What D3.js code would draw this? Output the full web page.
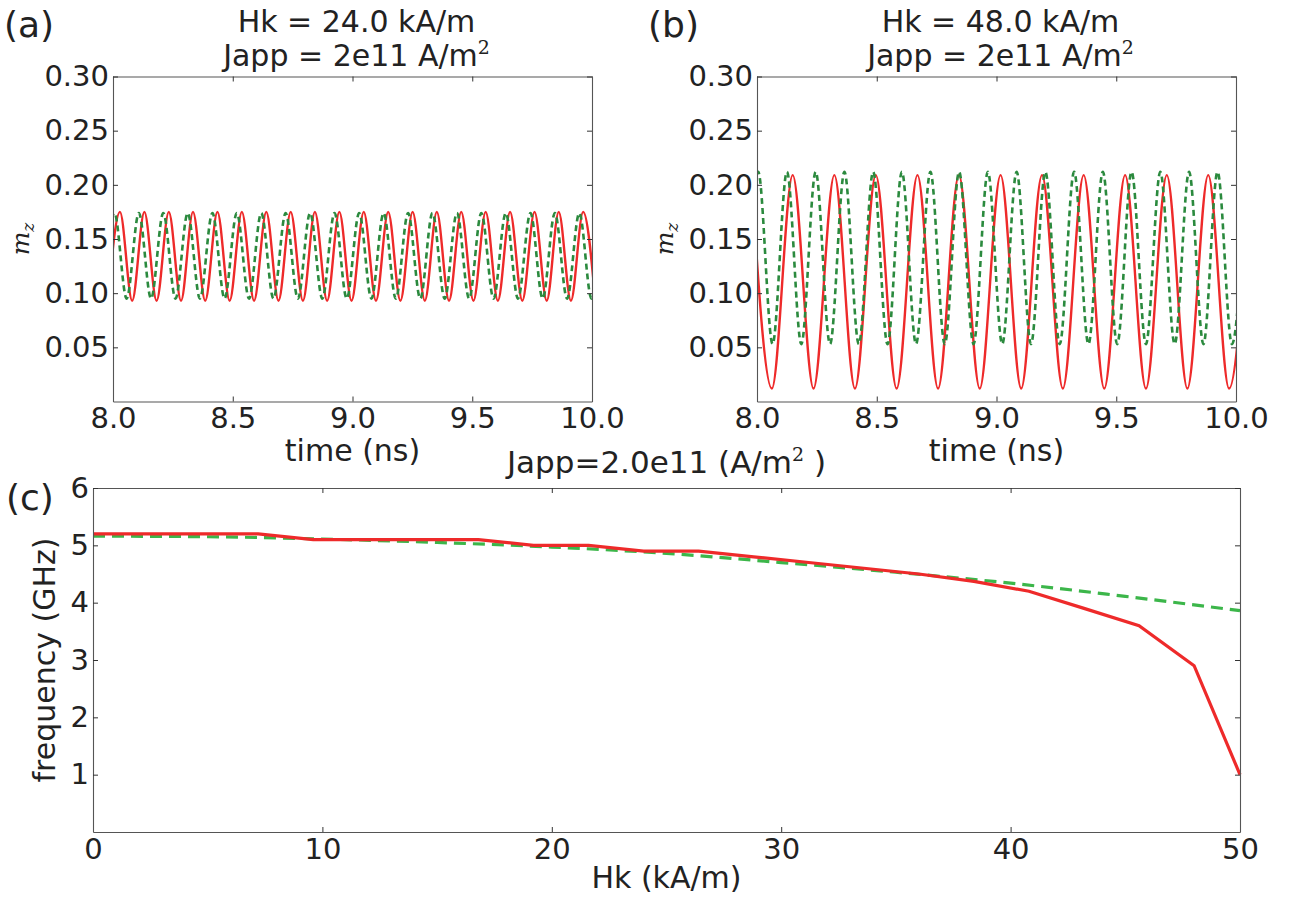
<!DOCTYPE html>
<html><head><meta charset="utf-8">
<script src="https://cdn.jsdelivr.net/npm/d3@7"></script>
<style>
body{margin:0;background:#fff}
svg{display:block}
text{font-family:"DejaVu Sans";fill:#222}
</style>
</head><body>
<svg id="fig" width="1302" height="903"></svg>
<script>
// ---------------- data ----------------
const timeTicks = [8.0, 8.5, 9.0, 9.5, 10.0];
const mzTicks = [0.05, 0.10, 0.15, 0.20, 0.25, 0.30];
const hkTicks = [0, 10, 20, 30, 40, 50];
const freqTicks = [1, 2, 3, 4, 5, 6];

// panel (a): Hk = 24 kA/m, extrema of m_z(t)
const aRedPeakT   = [8.029,8.131,8.233,8.334,8.436,8.538,8.640,8.742,8.843,8.945,9.047,9.149,9.251,9.352,9.454,9.556,9.658,9.760,9.861,9.963];
const aRedTroughT = [7.978,8.080,8.182,8.284,8.385,8.487,8.589,8.691,8.793,8.894,8.996,9.098,9.200,9.302,9.403,9.505,9.607,9.709,9.811,9.912,10.014];
const aRedLevels  = [0.175, 0.093];   // peak, trough
const aGreenPeakT   = [8.006,8.108,8.210,8.312,8.415,8.517,8.619,8.721,8.823,8.925,9.028,9.130,9.232,9.334,9.436,9.538,9.640,9.743,9.845,9.947,10.049];
const aGreenTroughT = [7.955,8.057,8.159,8.261,8.363,8.466,8.568,8.670,8.772,8.874,8.976,9.079,9.181,9.283,9.385,9.487,9.589,9.691,9.794,9.896,9.998];
const aGreenLevels  = [0.174, 0.095];

// panel (b): Hk = 48 kA/m
const bRedPeakT   = [7.976,8.149,8.323,8.496,8.670,8.843,9.017,9.190,9.364,9.537,9.711,9.884,10.058];
const bRedTroughT = [8.062,8.236,8.409,8.583,8.756,8.930,9.103,9.277,9.450,9.624,9.797,9.971];
const bRedLevels  = [0.209, 0.012];
const bGreenPeakT   = [8.005,8.125,8.245,8.365,8.485,8.605,8.724,8.844,8.964,9.084,9.204,9.324,9.444,9.564,9.684,9.804,9.923,10.043];
const bGreenTroughT = [7.945,8.065,8.185,8.305,8.425,8.545,8.664,8.784,8.904,9.024,9.144,9.264,9.384,9.504,9.624,9.744,9.864,9.983];
const bGreenLevels  = [0.212, 0.053];

// panel (c): frequency vs Hk
const hkRed   = [0,2.4,4.8,7.2,9.6,12,14.4,16.8,19.2,21.6,24,26.4,28.8,31.2,33.6,36,38.4,40.8,43.2,45.6,48,50];
const freqRed = [5.2,5.2,5.2,5.2,5.1,5.1,5.1,5.1,5.0,5.0,4.9,4.9,4.8,4.7,4.6,4.5,4.37,4.2,3.9,3.6,2.9,1.0];
const hkGreen   = [0,5,10,15,20,25,30,35,40,45,50];
const freqGreen = [5.16,5.15,5.11,5.05,4.97,4.86,4.70,4.53,4.34,4.11,3.86];

// ---------------- style ----------------
const RED = "#ee2a2a", GREEN_AB = "#2b8a3e", GREEN_C = "#3cb64a";
const svg = d3.select("#fig");
const FS = 29;

function extrema(peaks, troughs, levels){
  const pts = peaks.map(t => [t, levels[0]]).concat(troughs.map(t => [t, levels[1]]));
  return pts.sort((a,b) => a[0]-b[0]);
}

function frame(g, x, y, xt, yt, fx, fy){
  const [x0,x1] = x.range(), [y0,y1] = y.range();
  const style = s => { s.select(".domain").attr("stroke","#555").attr("stroke-width",1.1);
    s.selectAll(".tick line").attr("stroke","#333").attr("stroke-width",1);
    s.selectAll(".tick text").style("font-family","DejaVu Sans").style("font-size",FS+"px").attr("fill","#222"); };
  g.append("g").attr("transform",`translate(0,${y0})`)
    .call(d3.axisBottom(x).tickValues(xt).tickFormat(fx).tickSize(-5).tickSizeOuter(0).tickPadding(6)).call(style);
  g.append("g").attr("transform",`translate(0,${y1})`)
    .call(d3.axisTop(x).tickValues(xt).tickFormat("").tickSize(-5).tickSizeOuter(0)).call(style);
  g.append("g").attr("transform",`translate(${x0},0)`)
    .call(d3.axisLeft(y).tickValues(yt).tickFormat(fy).tickSize(-5).tickSizeOuter(0).tickPadding(4)).call(style);
  g.append("g").attr("transform",`translate(${x1},0)`)
    .call(d3.axisRight(y).tickValues(yt).tickFormat("").tickSize(-5).tickSizeOuter(0)).call(style);
}

function timePanel(id, left, right, redPts, greenPts, label, title1){
  const top = 76.5, bottom = 401.5;
  const x = d3.scaleLinear().domain([8,10]).range([left,right]);
  const y = d3.scaleLinear().domain([0,0.30]).range([bottom,top]);
  const g = svg.append("g");
  svg.append("clipPath").attr("id","clip"+id).append("rect")
    .attr("x",left).attr("y",top).attr("width",right-left).attr("height",bottom-top);
  const line = d3.line().x(d=>x(d[0])).y(d=>y(d[1])).curve(d3.curveMonotoneX);
  const lg = g.append("g").attr("clip-path",`url(#clip${id})`);
  lg.append("path").datum(redPts).attr("d",line).attr("fill","none")
    .attr("stroke",RED).attr("stroke-width",2.4);
  lg.append("path").datum(greenPts).attr("d",line).attr("fill","none")
    .attr("stroke",GREEN_AB).attr("stroke-width",2.6).attr("stroke-dasharray","6,4");
  frame(g, x, y, timeTicks, mzTicks, d3.format(".1f"), d3.format(".2f"));
  const cx = (left+right)/2 + 4;
  g.append("text").attr("x",cx).attr("y",32).attr("text-anchor","middle").style("font-size","30px").text(title1);
  const t2 = g.append("text").attr("x",cx).attr("y",66).attr("text-anchor","middle").style("font-size","30px");
  t2.append("tspan").text("Japp = 2e11 A/m");
  t2.append("tspan").attr("dy",-12).style("font-size","19px").style("font-family","DejaVu Serif").text("2");
  g.append("text").attr("x",cx-4).attr("y",461).attr("text-anchor","middle").style("font-size","30px").text("time (ns)");
  g.append("text").attr("x",left-109).attr("y",37).style("font-size","36px").text(label);
  const yl = g.append("text").attr("transform",`translate(${left-84},${(top+bottom)/2}) rotate(-90)`)
    .attr("text-anchor","middle").style("font-family","DejaVu Serif").style("font-style","italic");
  yl.append("tspan").style("font-size","25px").text("m");
  yl.append("tspan").attr("dy",5).style("font-size","17px").text("z");
}

timePanel("a", 113, 592, extrema(aRedPeakT,aRedTroughT,aRedLevels), extrema(aGreenPeakT,aGreenTroughT,aGreenLevels), "(a)", "Hk = 24.0 kA/m");
timePanel("b", 757, 1236, extrema(bRedPeakT,bRedTroughT,bRedLevels), extrema(bGreenPeakT,bGreenTroughT,bGreenLevels), "(b)", "Hk = 48.0 kA/m");

// panel (c)
(function(){
  const left = 93, right = 1240, top = 488, bottom = 832;
  const x = d3.scaleLinear().domain([0,50]).range([left,right]);
  const y = d3.scaleLinear().domain([0,6]).range([bottom,top]);
  const g = svg.append("g");
  const red = hkRed.map((h,i)=>[h,freqRed[i]]);
  const green = hkGreen.map((h,i)=>[h,freqGreen[i]]);
  g.append("path").datum(green).attr("fill","none").attr("stroke",GREEN_C).attr("stroke-width",3.2)
    .attr("stroke-dasharray","12,7")
    .attr("d",d3.line().x(d=>x(d[0])).y(d=>y(d[1])).curve(d3.curveMonotoneX));
  g.append("path").datum(red).attr("fill","none").attr("stroke",RED).attr("stroke-width",3.2)
    .attr("d",d3.line().x(d=>x(d[0])).y(d=>y(d[1])));
  frame(g, x, y, hkTicks, freqTicks, d3.format("d"), d3.format("d"));
  const t = g.append("text").attr("x",(left+right)/2).attr("y",473).attr("text-anchor","middle").style("font-size","31px");
  t.append("tspan").text("Japp=2.0e11 (A/m");
  t.append("tspan").attr("dy",-12).style("font-size","19px").style("font-family","DejaVu Serif").text("2");
  t.append("tspan").attr("dy",12).text(" )");
  g.append("text").attr("x",(left+right)/2).attr("y",888).attr("text-anchor","middle").style("font-size","30px").text("Hk (kA/m)");
  g.append("text").attr("transform",`translate(${left-38},${(top+bottom)/2}) rotate(-90)`)
    .attr("text-anchor","middle").style("font-size","30px").text("frequency (GHz)");
  g.append("text").attr("x",6).attr("y",510).style("font-size","36px").text("(c)");
})();
</script>
</body></html>
